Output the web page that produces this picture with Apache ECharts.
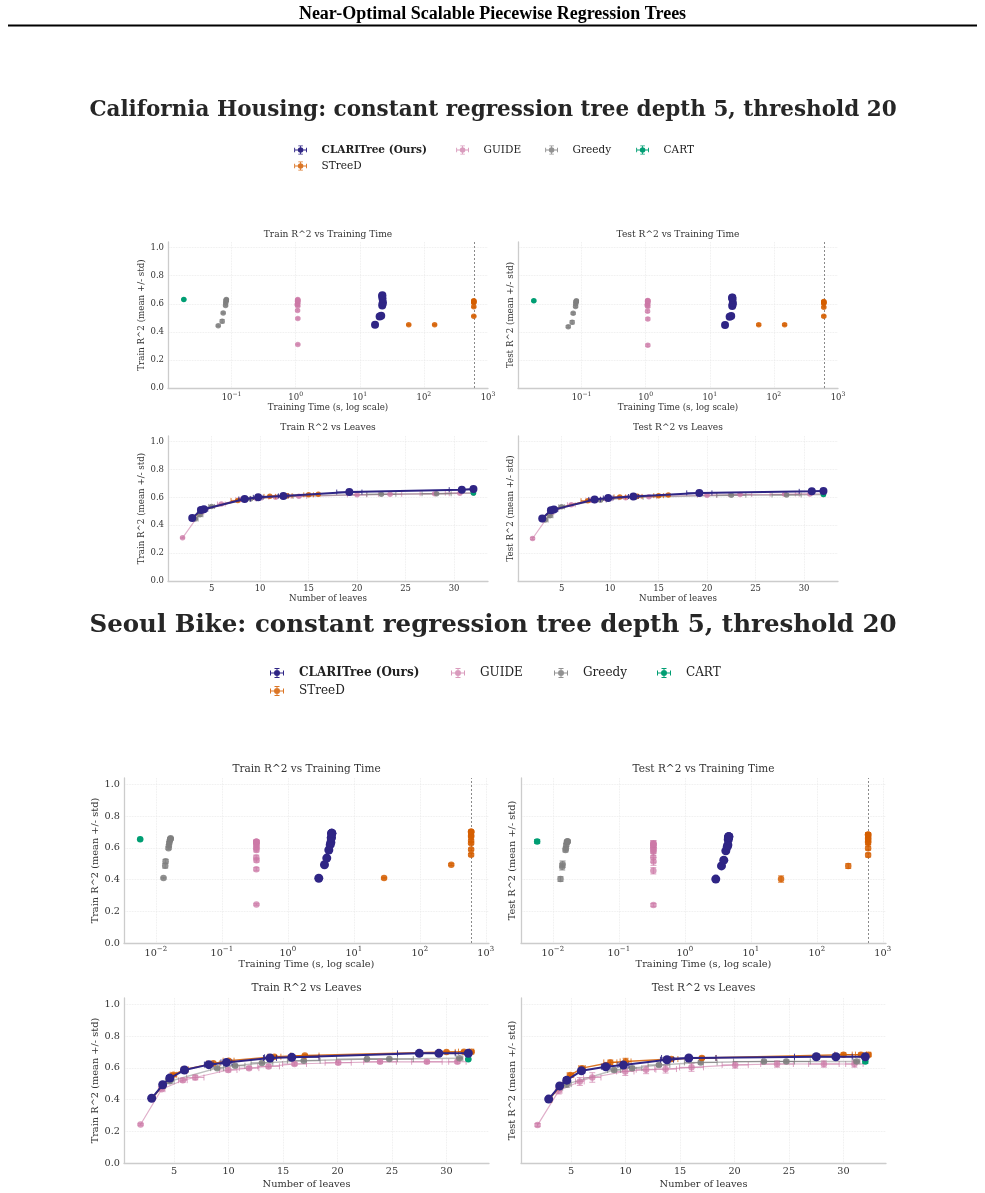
<!DOCTYPE html>
<html>
<head>
<meta charset="utf-8">
<title>Near-Optimal Scalable Piecewise Regression Trees</title>
<script src="https://cdn.jsdelivr.net/npm/echarts@6/dist/echarts.min.js"></script>
<style>
  html, body { margin: 0; padding: 0; background: #fff; }
  #chart { width: 985px; height: 1193px; }
</style>
</head>
<body>
<div id="chart"></div>
<script>
// ---------- California Housing ----------
const caClariLeaves    = [3.0, 3.9, 4.2, 8.4, 9.8, 12.4, 19.2, 30.8, 32.0];
const caClariLeavesStd = [0, 0.3, 0.4, 0.6, 0.5, 0.5, 1.3, 1.3, 0];
const caClariTime      = [17.3, 20.4, 21.6, 22.4, 22.7, 22.9, 22.6, 22.3, 22.5];
const caClariTrain     = [0.451, 0.509, 0.515, 0.588, 0.600, 0.610, 0.638, 0.655, 0.660];
const caClariTrainStd  = [0.004, 0.004, 0.004, 0.004, 0.004, 0.004, 0.004, 0.003, 0.003];
const caClariTest      = [0.448, 0.507, 0.512, 0.585, 0.595, 0.606, 0.632, 0.643, 0.645];
const caClariTestStd   = [0.006, 0.006, 0.006, 0.005, 0.005, 0.005, 0.005, 0.005, 0.005];

const caStreedLeaves    = [3.0, 3.0, 4.1, 7.7, 11.0, 12.8, 15.0, 16.0];
const caStreedLeavesStd = [0, 0, 0.2, 0.7, 0.6, 0.5, 0.5, 0];
const caStreedTime      = [58, 147, 600, 600, 600, 600, 600, 600];
const caStreedTrain     = [0.451, 0.451, 0.511, 0.578, 0.607, 0.612, 0.618, 0.622];
const caStreedTrainStd  = [0.004, 0.004, 0.004, 0.005, 0.004, 0.004, 0.004, 0.004];
const caStreedTest      = [0.451, 0.451, 0.511, 0.576, 0.603, 0.607, 0.612, 0.617];
const caStreedTestStd   = [0.006, 0.006, 0.006, 0.006, 0.005, 0.005, 0.005, 0.005];

const caGuideLeaves    = [2.0, 3.9, 6.0, 8.0, 9.6, 11.6, 14.0, 20.0, 23.4, 28.0, 30.6];
const caGuideLeavesStd = [0, 0.3, 0.4, 0.5, 0.6, 0.7, 0.8, 1.0, 1.2, 1.5, 1.5];
const caGuideTime      = [1.08, 1.08, 1.07, 1.08, 1.06, 1.07, 1.08, 1.07, 1.08, 1.07, 1.08];
const caGuideTrain     = [0.310, 0.495, 0.552, 0.585, 0.593, 0.600, 0.607, 0.618, 0.622, 0.626, 0.630];
const caGuideTrainStd  = [0.004, 0.005, 0.005, 0.005, 0.005, 0.005, 0.005, 0.004, 0.004, 0.004, 0.004];
const caGuideTest      = [0.305, 0.492, 0.547, 0.580, 0.590, 0.597, 0.605, 0.615, 0.620, 0.622, 0.624];
const caGuideTestStd   = [0.008, 0.008, 0.008, 0.007, 0.007, 0.007, 0.007, 0.006, 0.006, 0.006, 0.006];

const caGreedyLeaves    = [3.3, 3.8, 5.0, 9.0, 12.6, 22.5, 28.2, 32.0];
const caGreedyLeavesStd = [0.3, 0.3, 0.3, 0.6, 0.8, 1.5, 1.5, 0];
const caGreedyTime      = [0.062, 0.0714, 0.074, 0.0807, 0.081, 0.0826, 0.0826, 0.083];
const caGreedyTrain     = [0.444, 0.475, 0.535, 0.588, 0.607, 0.622, 0.626, 0.631];
const caGreedyTrainStd  = [0.005, 0.012, 0.006, 0.005, 0.004, 0.004, 0.004, 0.004];
const caGreedyTest      = [0.437, 0.468, 0.532, 0.580, 0.600, 0.615, 0.617, 0.621];
const caGreedyTestStd   = [0.007, 0.012, 0.007, 0.006, 0.006, 0.005, 0.005, 0.005];

const caCartLeaves   = [32.0];
const caCartTime     = [0.018];
const caCartTrain    = [0.631];
const caCartTest     = [0.621];

// ---------- Seoul Bike ----------
const sbClariLeaves    = [2.94, 3.95, 4.6, 5.95, 8.18, 9.8, 13.8, 15.8, 27.5, 29.3, 32.0];
const sbClariLeavesStd = [0, 0.2, 0.3, 0.3, 0.4, 0.5, 0.6, 2.5, 2.0, 1.5, 0];
const sbClariTime      = [2.95, 3.6, 3.9, 4.19, 4.4, 4.5, 4.56, 4.58, 4.62, 4.65, 4.65];
const sbClariTrain     = [0.408, 0.493, 0.535, 0.586, 0.620, 0.634, 0.662, 0.666, 0.691, 0.691, 0.692];
const sbClariTrainStd  = [0.006, 0.008, 0.010, 0.008, 0.006, 0.006, 0.005, 0.005, 0.004, 0.004, 0.004];
const sbClariTest      = [0.403, 0.486, 0.522, 0.581, 0.607, 0.618, 0.651, 0.662, 0.670, 0.670, 0.670];
const sbClariTestStd   = [0.015, 0.014, 0.015, 0.012, 0.010, 0.010, 0.008, 0.007, 0.006, 0.006, 0.006];

const sbStreedLeaves    = [3.0, 4.0, 4.94, 6.0, 8.6, 10.0, 14.2, 17.0, 30.0, 31.6, 32.3];
const sbStreedLeavesStd = [0, 0, 0.3, 0.3, 0.6, 0.5, 0.6, 1.3, 0.8, 0.5, 0.2];
const sbStreedTime      = [28.8, 300, 600, 600, 600, 600, 600, 600, 600, 600, 600];
const sbStreedTrain     = [0.409, 0.494, 0.556, 0.590, 0.628, 0.645, 0.670, 0.677, 0.700, 0.702, 0.702];
const sbStreedTrainStd  = [0.005, 0.006, 0.008, 0.008, 0.007, 0.007, 0.006, 0.006, 0.005, 0.005, 0.005];
const sbStreedTest      = [0.403, 0.485, 0.554, 0.598, 0.634, 0.640, 0.655, 0.662, 0.683, 0.683, 0.683];
const sbStreedTestStd   = [0.020, 0.015, 0.012, 0.012, 0.015, 0.020, 0.010, 0.010, 0.010, 0.010, 0.010];

const sbGuideLeaves    = [1.92, 3.86, 5.8, 6.94, 9.97, 11.88, 13.67, 16.05, 20.06, 23.9, 28.2, 31.0];
const sbGuideLeavesStd = [0, 0.3, 0.4, 0.8, 0.8, 0.9, 1.0, 1.1, 1.2, 1.5, 1.4, 0.8];
const sbGuideTime      = [0.335, 0.334, 0.336, 0.333, 0.335, 0.334, 0.336, 0.335, 0.334, 0.333, 0.335, 0.336];
const sbGuideTrain     = [0.243, 0.465, 0.522, 0.539, 0.586, 0.598, 0.609, 0.624, 0.632, 0.638, 0.638, 0.638];
const sbGuideTrainStd  = [0.005, 0.010, 0.012, 0.015, 0.012, 0.010, 0.010, 0.010, 0.010, 0.010, 0.010, 0.010];
const sbGuideTest      = [0.239, 0.455, 0.514, 0.539, 0.577, 0.588, 0.592, 0.603, 0.618, 0.624, 0.624, 0.624];
const sbGuideTestStd   = [0.010, 0.020, 0.025, 0.030, 0.025, 0.025, 0.025, 0.025, 0.020, 0.020, 0.020, 0.020];

const sbGreedyLeaves    = [3.0, 4.0, 4.6, 8.95, 10.6, 13.06, 16.9, 22.7, 24.75, 31.2];
const sbGreedyLeavesStd = [0, 0.2, 0.4, 0.6, 0.9, 1.0, 1.5, 2.8, 2.2, 0.3];
const sbGreedyTime      = [0.0131, 0.0139, 0.0141, 0.0156, 0.0158, 0.0160, 0.0163, 0.0166, 0.0167, 0.0168];
const sbGreedyTrain     = [0.409, 0.487, 0.515, 0.598, 0.613, 0.631, 0.645, 0.655, 0.655, 0.660];
const sbGreedyTrainStd  = [0.005, 0.015, 0.012, 0.008, 0.008, 0.006, 0.006, 0.005, 0.005, 0.005];
const sbGreedyTest      = [0.403, 0.480, 0.497, 0.586, 0.598, 0.618, 0.634, 0.640, 0.640, 0.640];
const sbGreedyTestStd   = [0.015, 0.020, 0.020, 0.012, 0.012, 0.010, 0.010, 0.008, 0.008, 0.008];

const sbCartLeaves   = [32.0];
const sbCartTime     = [0.0058];
const sbCartTrain    = [0.654];
const sbCartTest     = [0.640];

const yTicks = [0, 0.2, 0.4, 0.6, 0.8, 1.0];
const TIME_LIMIT = 600;

// ---------- styling ----------
const FONT = 'DejaVu Serif';
const TXT = '#333333';

const METHODS = {
  clari:  { name: 'CLARITree (Ours)', color: '#2f2585', opacity: 1,    lineW: 2,   lineOp: 1,    z: 10 },
  streed: { name: 'STreeD',           color: '#D55E00', opacity: 0.85, lineW: 1.5, lineOp: 0.85, z: 6 },
  guide:  { name: 'GUIDE',            color: '#CC79A7', opacity: 0.75, lineW: 1.2, lineOp: 0.6,  z: 4 },
  greedy: { name: 'Greedy',           color: '#7f7f7f', opacity: 0.85, lineW: 1.5, lineOp: 0.5,  z: 5 },
  cart:   { name: 'CART',             color: '#009E73', opacity: 1,    lineW: 1,   lineOp: 1,    z: 7 }
};
const DRAW_ORDER = ['clari', 'streed', 'guide', 'greedy', 'cart'];

function zeros(n) { return new Array(n).fill(0); }

const DATA = {
  ca: {
    clari:  { leaves: caClariLeaves, leavesStd: caClariLeavesStd, time: caClariTime, train: caClariTrain, trainStd: caClariTrainStd, test: caClariTest, testStd: caClariTestStd },
    streed: { leaves: caStreedLeaves, leavesStd: caStreedLeavesStd, time: caStreedTime, train: caStreedTrain, trainStd: caStreedTrainStd, test: caStreedTest, testStd: caStreedTestStd },
    guide:  { leaves: caGuideLeaves, leavesStd: caGuideLeavesStd, time: caGuideTime, train: caGuideTrain, trainStd: caGuideTrainStd, test: caGuideTest, testStd: caGuideTestStd },
    greedy: { leaves: caGreedyLeaves, leavesStd: caGreedyLeavesStd, time: caGreedyTime, train: caGreedyTrain, trainStd: caGreedyTrainStd, test: caGreedyTest, testStd: caGreedyTestStd },
    cart:   { leaves: caCartLeaves, leavesStd: zeros(1), time: caCartTime, train: caCartTrain, trainStd: [0.003], test: caCartTest, testStd: [0.005] }
  },
  sb: {
    clari:  { leaves: sbClariLeaves, leavesStd: sbClariLeavesStd, time: sbClariTime, train: sbClariTrain, trainStd: sbClariTrainStd, test: sbClariTest, testStd: sbClariTestStd },
    streed: { leaves: sbStreedLeaves, leavesStd: sbStreedLeavesStd, time: sbStreedTime, train: sbStreedTrain, trainStd: sbStreedTrainStd, test: sbStreedTest, testStd: sbStreedTestStd },
    guide:  { leaves: sbGuideLeaves, leavesStd: sbGuideLeavesStd, time: sbGuideTime, train: sbGuideTrain, trainStd: sbGuideTrainStd, test: sbGuideTest, testStd: sbGuideTestStd },
    greedy: { leaves: sbGreedyLeaves, leavesStd: sbGreedyLeavesStd, time: sbGreedyTime, train: sbGreedyTrain, trainStd: sbGreedyTrainStd, test: sbGreedyTest, testStd: sbGreedyTestStd },
    cart:   { leaves: sbCartLeaves, leavesStd: zeros(1), time: sbCartTime, train: sbCartTrain, trainStd: [0.004], test: sbCartTest, testStd: [0.012] }
  }
};

// section layout
const SECTIONS = [
  {
    key: 'ca', title: 'California Housing: constant regression tree depth 5, threshold 20', titleY: 110, titleSize: 21.5,
    legendY: [150, 166], legendX: { clari: 301, streed: 301, guide: 463, greedy: 552, cart: 643 }, legendSize: 10.5, legendIcon: [32, 11],
    timeRange: [0.0102, 1000], leafRange: [0.5, 33.5],
    grids: [[168, 242, 320, 146], [518, 242, 320, 146], [168, 436, 320, 145], [518, 436, 320, 145]],
    subTitleY: [235, 428], subSize: 9.1, tickSize: 8.5, nameSize: 8.7,
    xNameGap: 12, yNameGapTrain: 15, yNameGapTest: 3, big: 8, small: 5.5, cap: 2.5
  },
  {
    key: 'sb', title: 'Seoul Bike: constant regression tree depth 5, threshold 20', titleY: 626, titleSize: 24.5,
    legendY: [673, 691], legendX: { clari: 277, streed: 277, guide: 458, greedy: 561, cart: 664 }, legendSize: 12, legendIcon: [34, 12],
    timeRange: [0.0033, 1120], leafRange: [0.4, 33.9],
    grids: [[124, 778, 365, 165], [521, 778, 365, 165], [124, 998, 365, 165], [521, 998, 365, 165]],
    subTitleY: [769, 988], subSize: 10.5, tickSize: 9.7, nameSize: 9.8,
    xNameGap: 16, yNameGapTrain: 20, yNameGapTest: 4, big: 9, small: 6.5, cap: 3
  }
];

// legend glyph: error-bar cross with a dot, centred in a 34x12 box
const ICON = 'path://M0,0h0.01v0.01h-0.01z M33.99,11.99h0.01v0.01h-0.01z ' +
  'M10,5.5h14v1h-14z M10,3.5h1v5h-1z M23,3.5h1v5h-1z ' +
  'M16.5,1h1v10h-1z M14.5,1h5v1h-5z M14.5,10h5v1h-5z ' +
  'M20,6A3,3,0,1,1,14,6A3,3,0,1,1,20,6z';

function logLabel(v) {
  const e = Math.log10(v);
  const r = Math.round(e);
  if (Math.abs(e - r) > 1e-6) return '';
  return '{b|10}{s|' + String(r).replace('-', '\u2212') + '}';
}
function rLabel(v) {
  return yTicks.some(t => Math.abs(t - v) < 1e-6) ? v.toFixed(1) : '';
}
function leafLabel(v) {
  return Math.abs(v / 5 - Math.round(v / 5)) < 1e-6 ? String(Math.round(v)) : '';
}

function errRender(color, opacity, cap) {
  return function (params, api) {
    const x = api.value(0), y = api.value(1), xe = api.value(2), ye = api.value(3);
    const st = { stroke: color, lineWidth: 1, opacity: opacity };
    const kids = [];
    if (ye > 0) {
      const a = api.coord([x, y + ye]), b = api.coord([x, y - ye]);
      kids.push({ type: 'line', shape: { x1: a[0], y1: a[1], x2: b[0], y2: b[1] }, style: st });
      kids.push({ type: 'line', shape: { x1: a[0] - cap, y1: a[1], x2: a[0] + cap, y2: a[1] }, style: st });
      kids.push({ type: 'line', shape: { x1: b[0] - cap, y1: b[1], x2: b[0] + cap, y2: b[1] }, style: st });
    }
    if (xe > 0) {
      const a = api.coord([x - xe, y]), b = api.coord([x + xe, y]);
      kids.push({ type: 'line', shape: { x1: a[0], y1: a[1], x2: b[0], y2: b[1] }, style: st });
      kids.push({ type: 'line', shape: { x1: a[0], y1: a[1] - cap, x2: a[0], y2: a[1] + cap }, style: st });
      kids.push({ type: 'line', shape: { x1: b[0], y1: b[1] - cap, x2: b[0], y2: b[1] + cap }, style: st });
    }
    return { type: 'group', children: kids };
  };
}

const grid = [], xAxis = [], yAxis = [], series = [], legend = [], graphic = [];

// page header
graphic.push({
  type: 'text', x: 492.5, y: 14,
  style: { text: 'Near-Optimal Scalable Piecewise Regression Trees', font: 'bold 18px "Liberation Serif"', fill: '#000', align: 'center', verticalAlign: 'middle' }
});
graphic.push({ type: 'line', shape: { x1: 8, y1: 25.5, x2: 977, y2: 25.5 }, style: { stroke: '#000', lineWidth: 2 } });

const PLOTS = [
  { x: 'time', y: 'train', title: 'Train R^2 vs Training Time', xName: 'Training Time (s, log scale)', yName: 'Train R^2 (mean +/- std)' },
  { x: 'time', y: 'test', title: 'Test R^2 vs Training Time', xName: 'Training Time (s, log scale)', yName: 'Test R^2 (mean +/- std)' },
  { x: 'leaves', y: 'train', title: 'Train R^2 vs Leaves', xName: 'Number of leaves', yName: 'Train R^2 (mean +/- std)' },
  { x: 'leaves', y: 'test', title: 'Test R^2 vs Leaves', xName: 'Number of leaves', yName: 'Test R^2 (mean +/- std)' }
];

SECTIONS.forEach(sec => {
  const data = DATA[sec.key];

  graphic.push({
    type: 'text', x: 493, y: sec.titleY,
    style: { text: sec.title, font: 'bold ' + sec.titleSize + 'px "' + FONT + '"', fill: '#262626', align: 'center', verticalAlign: 'middle' }
  });

  // legend, one component per entry so columns sit where matplotlib put them
  DRAW_ORDER.forEach(k => {
    const m = METHODS[k];
    const row = k === 'streed' ? 1 : 0;
    const [iw, ih] = sec.legendIcon;
    legend.push({
      left: sec.legendX[k] - iw / 2, top: sec.legendY[row] - ih / 2,
      padding: 0, itemWidth: iw, itemHeight: ih, icon: ICON, selectedMode: false,
      data: [m.name],
      textStyle: { fontFamily: FONT, fontSize: sec.legendSize, color: '#222', lineHeight: ih, fontWeight: k === 'clari' ? 'bold' : 'normal' }
    });
  });

  PLOTS.forEach((p, pi) => {
    const gi = grid.length;
    const r = sec.grids[pi];
    const isTime = p.x === 'time';
    const isTrain = p.y === 'train';
    grid.push({ left: r[0], top: r[1], width: r[2], height: r[3], outerBoundsMode: 'none', containLabel: false });

    graphic.push({
      type: 'text', x: r[0] + r[2] / 2, y: sec.subTitleY[pi < 2 ? 0 : 1],
      style: { text: p.title, font: sec.subSize + 'px "' + FONT + '"', fill: TXT, align: 'center', verticalAlign: 'middle' }
    });

    const axisLine = { show: true, lineStyle: { color: '#cccccc', width: 1.3 } };
    const split = { show: true, showMinLine: false, showMaxLine: false, lineStyle: { color: '#e8e8e8', type: 'dotted', width: 0.8 } };
    const ts = sec.tickSize;

    xAxis.push({
      gridIndex: gi,
      type: isTime ? 'log' : 'value',
      logBase: 10,
      min: isTime ? sec.timeRange[0] : sec.leafRange[0],
      max: isTime ? sec.timeRange[1] : sec.leafRange[1],
      splitNumber: isTime ? 5 : 6,
      axisLine: axisLine, axisTick: { show: false }, splitLine: split,
      axisLabel: {
        fontFamily: FONT, fontSize: ts, color: TXT, margin: 3, showMinLabel: true, showMaxLabel: true,
        formatter: isTime ? logLabel : leafLabel,
        rich: {
          b: { fontFamily: FONT, fontSize: ts, color: TXT, lineHeight: ts + 5 },
          s: { fontFamily: FONT, fontSize: ts * 0.72, color: TXT, lineHeight: ts * 0.8, verticalAlign: 'top' }
        }
      },
      name: p.xName, nameLocation: 'middle', nameGap: sec.xNameGap,
      nameTextStyle: { fontFamily: FONT, fontSize: sec.nameSize, color: TXT }
    });
    yAxis.push({
      gridIndex: gi, type: 'value', min: 0, max: 1.04, interval: 0.2,
      axisLine: axisLine, axisTick: { show: false }, splitLine: split,
      axisLabel: { show: isTrain, fontFamily: FONT, fontSize: ts, color: TXT, margin: 4, formatter: rLabel },
      name: p.yName, nameLocation: 'middle', nameGap: isTrain ? sec.yNameGapTrain : sec.yNameGapTest,
      nameTextStyle: { fontFamily: FONT, fontSize: sec.nameSize, color: TXT }
    });

    DRAW_ORDER.forEach(k => {
      const m = METHODS[k];
      const d = data[k];
      const xs = d[p.x], ys = d[p.y], yStd = d[p.y + 'Std'];
      const xStd = isTime ? zeros(xs.length) : d.leavesStd;
      const pts = xs.map((x, i) => [x, ys[i]]);
      const size = k === 'clari' ? sec.big : sec.small;

      const sc = {
        type: 'scatter', name: m.name, xAxisIndex: gi, yAxisIndex: gi,
        data: pts, symbol: 'circle', symbolSize: size, z: m.z + 1,
        itemStyle: { color: m.color, opacity: m.opacity }, silent: true
      };
      if (isTime && k === 'streed') {
        sc.markLine = {
          silent: true, symbol: 'none', label: { show: false },
          lineStyle: { color: '#8a8a8a', type: [2, 2], width: 1, opacity: 1 },
          data: [{ xAxis: TIME_LIMIT }]
        };
      }
      series.push(sc);

      series.push({
        type: 'custom', name: m.name, xAxisIndex: gi, yAxisIndex: gi,
        data: xs.map((x, i) => [x, ys[i], xStd[i], yStd[i]]),
        encode: { x: 0, y: 1 }, z: m.z, silent: true,
        renderItem: errRender(m.color, m.opacity * 0.9, sec.cap)
      });

      if (!isTime && xs.length > 1) {
        const sorted = pts.slice().sort((a, b) => a[0] - b[0]);
        series.push({
          type: 'line', name: m.name, xAxisIndex: gi, yAxisIndex: gi,
          data: sorted, showSymbol: false, symbol: 'none', z: m.z,
          lineStyle: { color: m.color, width: m.lineW, opacity: m.lineOp },
          itemStyle: { color: m.color }, silent: true
        });
      }
    });
  });
});

const chart = echarts.init(document.getElementById('chart'), null, { renderer: 'canvas' });
chart.setOption({
  backgroundColor: '#ffffff',
  animation: false,
  textStyle: { fontFamily: FONT },
  grid: grid, xAxis: xAxis, yAxis: yAxis,
  legend: legend, graphic: graphic, series: series,
  tooltip: { show: false }
});
</script>
</body>
</html>
